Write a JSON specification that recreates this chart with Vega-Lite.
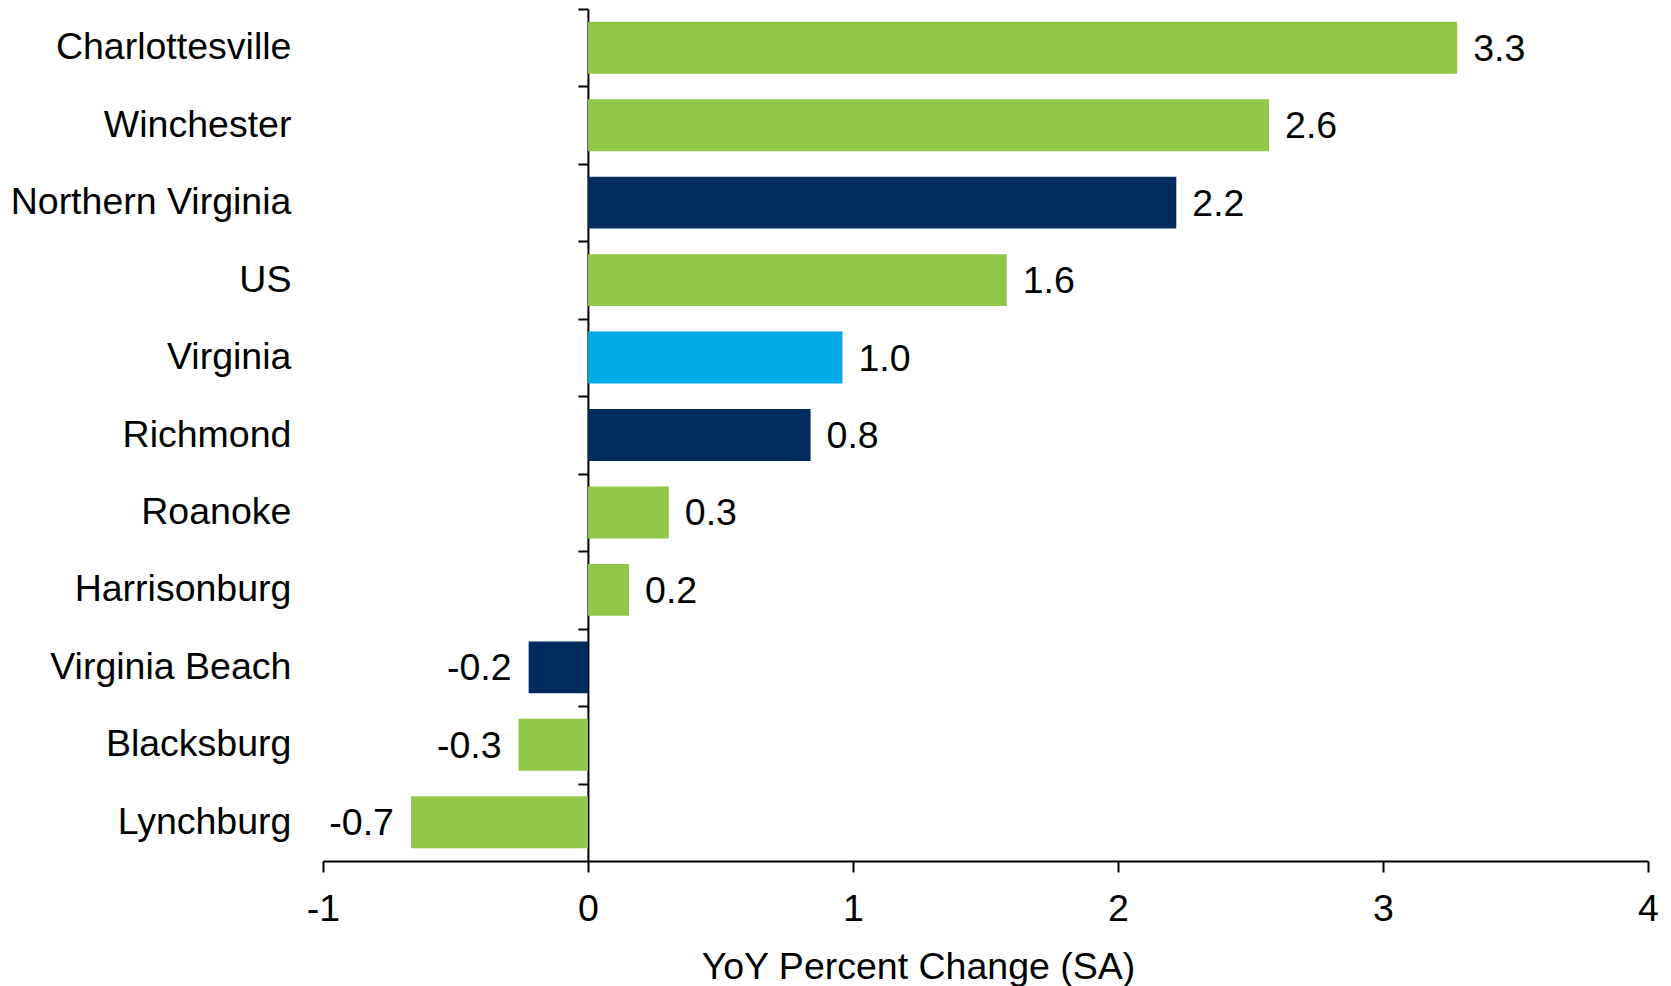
{
  "$schema": "https://vega.github.io/schema/vega-lite/v6.json",
  "width": 1325,
  "height": 852,
  "autosize": "none",
  "padding": {"left": 323, "top": 9, "right": 23, "bottom": 125},
  "background": "white",
  "config": {
    "view": {"stroke": null},
    "font": "Liberation Sans",
    "axis": {"grid": false, "labelFont": "Liberation Sans", "titleFont": "Liberation Sans", "labelColor": "#000", "titleColor": "#000", "domainColor": "#000", "tickColor": "#000"}
  },
  "data": {
    "values": [
      {"region": "Charlottesville", "change": 3.28, "label": "3.3", "group": "Other"},
      {"region": "Winchester", "change": 2.57, "label": "2.6", "group": "Other"},
      {"region": "Northern Virginia", "change": 2.22, "label": "2.2", "group": "Metro"},
      {"region": "US", "change": 1.58, "label": "1.6", "group": "Other"},
      {"region": "Virginia", "change": 0.96, "label": "1.0", "group": "State"},
      {"region": "Richmond", "change": 0.84, "label": "0.8", "group": "Metro"},
      {"region": "Roanoke", "change": 0.305, "label": "0.3", "group": "Other"},
      {"region": "Harrisonburg", "change": 0.155, "label": "0.2", "group": "Other"},
      {"region": "Virginia Beach", "change": -0.224, "label": "-0.2", "group": "Metro"},
      {"region": "Blacksburg", "change": -0.262, "label": "-0.3", "group": "Other"},
      {"region": "Lynchburg", "change": -0.668, "label": "-0.7", "group": "Other"}
    ]
  },
  "encoding": {
    "y": {
      "field": "region", "type": "nominal", "sort": null,
      "scale": {"paddingInner": 0.33, "paddingOuter": 0.165},
      "axis": {
        "title": null, "offset": -264.9, "labelPadding": 287, "labelFontSize": 37.5,
        "tickSize": 10, "tickWidth": 2, "domainWidth": 2,
        "bandPosition": 0, "tickExtra": false, "tickOffset": -12.78, "labelOffset": 12.78,
        "labelLimit": 600
      }
    },
    "x": {
      "field": "change", "type": "quantitative",
      "scale": {"domain": [-1, 4], "nice": false, "zero": false},
      "axis": {
        "values": [-1, 0, 1, 2, 3, 4], "format": "d",
        "labelExpr": "replace(datum.label, '\u2212', '-')",
        "title": "YoY Percent Change (SA)", "titleFontSize": 37.5, "titleFontWeight": "normal",
        "titleX": 595, "titleY": 117, "titleAlign": "center", "titleBaseline": "alphabetic",
        "labelFontSize": 37.5, "labelBaseline": "alphabetic", "labelPadding": 48,
        "tickSize": 11, "tickWidth": 2, "domainWidth": 2, "labelFlush": false
      }
    }
  },
  "layer": [
    {
      "mark": {"type": "bar"},
      "encoding": {
        "x2": {"datum": 0},
        "color": {
          "field": "group", "type": "nominal", "legend": null,
          "scale": {"domain": ["Other", "Metro", "State"], "range": ["#92C84A", "#012B5C", "#00AAE6"]}
        }
      }
    },
    {
      "transform": [{"filter": "datum.change >= 0"}],
      "mark": {"type": "text", "align": "left", "baseline": "middle", "dx": 16, "dy": 2, "fontSize": 37.5, "color": "#000"},
      "encoding": {"text": {"field": "label"}}
    },
    {
      "transform": [{"filter": "datum.change < 0"}],
      "mark": {"type": "text", "align": "right", "baseline": "middle", "dx": -17, "dy": 2, "fontSize": 37.5, "color": "#000"},
      "encoding": {"text": {"field": "label"}}
    }
  ]
}
